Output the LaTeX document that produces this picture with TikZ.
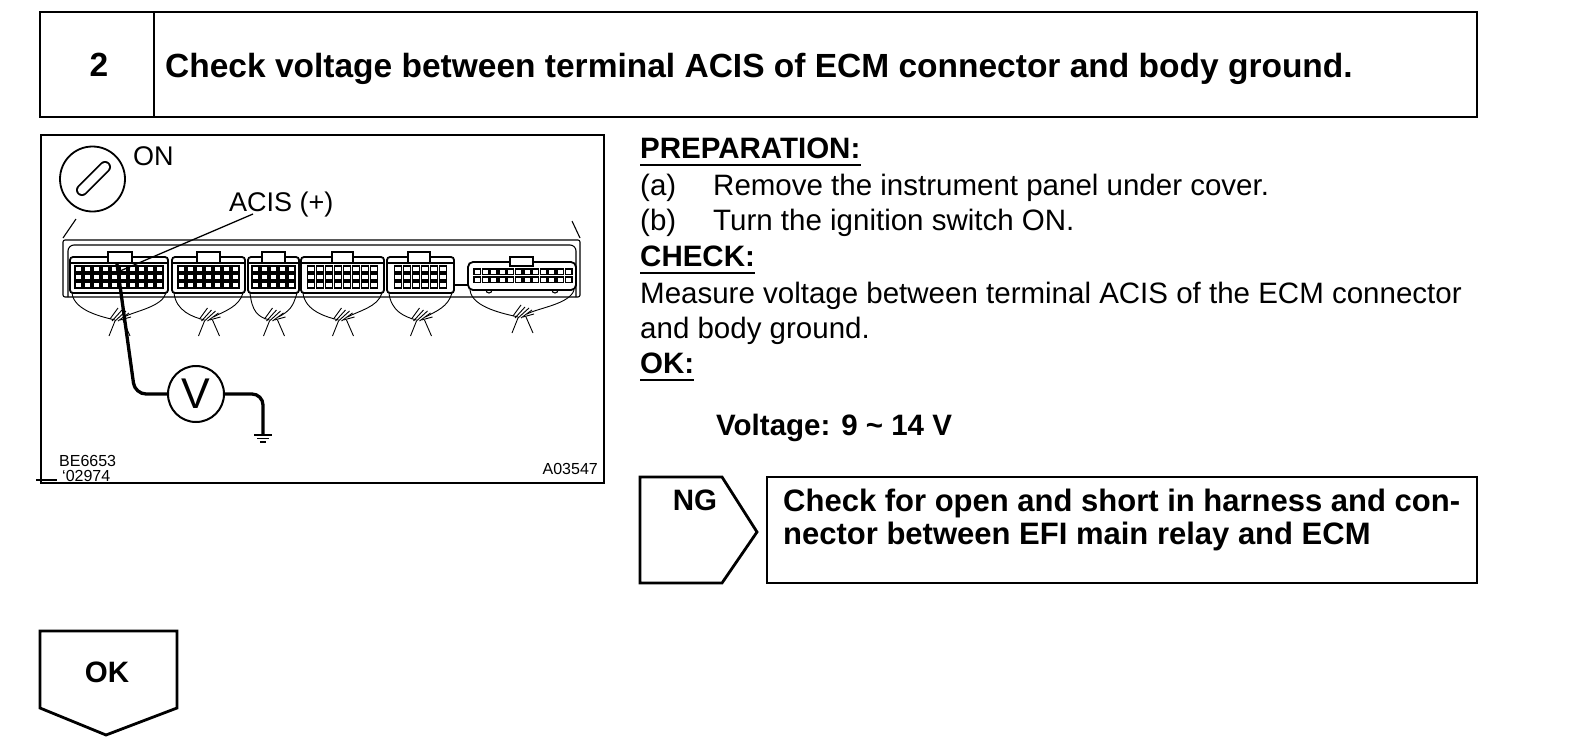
\documentclass[tikz,border=0pt]{standalone}
\usepackage{fontspec}
\setmainfont{Liberation Sans}
\newcommand\myfs[1]{\fontsize{#1}{#1}\selectfont}
\begin{document}
\begin{tikzpicture}[x=1pt,y=-1pt,
  box/.style={line width=2.8pt},
  thinl/.style={line width=1.1pt},
  pinbox/.style={line width=1.5pt},
  wire/.style={line width=0.9pt},
  probe/.style={line width=3.3pt, rounded corners=11pt},
  txt/.style={inner sep=0pt, anchor=base west},
  hbold/.style={txt, font=\myfs{33.5}\bfseries},
  bbold/.style={txt, font=\myfs{29.5}\bfseries},
  breg/.style={txt, font=\myfs{29.5}},
  small/.style={txt, font=\myfs{16}},
  ulin/.style={line width=2pt}]
\useasboundingbox (0,0) rectangle (1584,744);
\fill[white] (0,0) rectangle (1584,744);

% ---------- header ----------
\draw[box] (40,12) rectangle (1477,117);
\draw[box] (154,12) -- (154,117);
\node[inner sep=0pt, font=\myfs{33.5}\bfseries] (num) at (99,65) {2};
\node[hbold] (title) at (165,77) {Check voltage between terminal ACIS of ECM connector and body ground.};

% ---------- figure ----------
\draw[box] (41,135) rectangle (604,483);
\draw[thinl] (36,480) -- (57,480);
% ignition key
\node[circle, draw, line width=1.8pt, minimum size=65pt, inner sep=0pt] (key) at (92.5,179) {};
\draw[line width=12pt, line cap=round] (82,190) -- (105,167);
\draw[line width=8.4pt, line cap=round, white] (82,190) -- (105,167);
\node[txt, font=\myfs{27}] (on) at (133,165) {ON};
\node[txt, font=\myfs{27}] (acis) at (229,211) {ACIS (+)};

% ECM housing
\draw[thinl] (76,219) -- (63,238);
\draw[thinl] (572,221) -- (580,238);
\draw[thinl, rounded corners=2pt] (63,297) -- (63,240) -- (580,240) -- (580,297) -- cycle;
\draw[thinl, rounded corners=6pt] (68,297) -- (68,245) -- (576,245) -- (576,297);

% connectors C1..C5
\foreach \L/\R/\a/\b in {70/168/108/132, 172/245/197/220, 248/299/262/285, 301/384/332/353, 387/454/408/430}{
  \draw[line width=1.8pt, rounded corners=3pt] (\L,293) rectangle (\R,257);
  \draw[thinl, fill=white] (\a,252) rectangle (\b,263);
  \draw[thinl] (\L,263) -- (\a,263) (\b,263) -- (\R,263);
  \pgfmathtruncatemacro\n{(\R-\L-6)/9}
  \pgfmathsetmacro\xo{(\L+\R)/2-(\n*9-2)/2}
  \foreach \i in {1,...,\n}{
    \foreach \j in {266,274,282}{
      \draw[pinbox] ({\xo+(\i-1)*9},\j) rectangle ++(7,6);
    }
  }
}
% connector C6
\draw[line width=1.8pt, rounded corners=5pt] (468,262) rectangle (576,290);
\draw[thinl, fill=white] (510,257) rectangle (533,266);
\foreach \i in {1,...,12}{
  \foreach \j in {269,277}{
    \draw[pinbox] ({474+(\i-1)*8.3},\j) rectangle ++(6.5,5.5);
  }
}
\draw[thinl] (486,290) arc[start angle=180, end angle=0, radius=3];
\draw[thinl] (552,290) arc[start angle=180, end angle=0, radius=3];
\draw[thinl] (454,285) -- (468,285);

% harnesses
\foreach \L/\R/\B in {70/168/293, 172/245/293, 248/299/293, 301/384/293, 387/454/293, 468/576/290}{
  \pgfmathsetmacro\c{(\L+\R)/2}
  \draw[wire] (\L+2,\B) .. controls (\L+4,\B+18) and (\c-16,\B+24) .. (\c-4,\B+27);
  \draw[wire] (\R-2,\B) .. controls (\R-6,\B+14) and (\c+16,\B+18) .. (\c+5,\B+24);
  \draw[wire] (\c-7,\B+28) -- (\c+3,\B+17);
  \draw[wire] (\c-4,\B+28) -- (\c+7,\B+18);
  \draw[wire] (\c-1,\B+28) -- (\c+10,\B+20);
  \draw[wire] (\c-9,\B+26) -- (\c-1,\B+15);
  \draw[wire] (\c+1,\B+27) -- (\c+12,\B+24);
  \draw[wire] (\c-4,\B+28) -- (\c-10,\B+43);
  \draw[wire] (\c+4,\B+27) -- (\c+11,\B+43);
}

% probe, voltmeter, ground
\coordinate (ldr) at (253,214);
\coordinate (acistip) at (120,271);
\coordinate (acispin) at (117,264);
\coordinate (gnd) at (263,435);
\draw[line width=1.3pt] (ldr) -- (acistip);
\node[circle, draw, line width=2pt, minimum size=56pt, inner sep=0pt, fill=white, font=\myfs{43}] (vm) at (196,394) {V};
\draw[probe] (acispin) -- (135,394) -- (vm.west);
\draw[probe] (vm.east) -- (263,394) -- (gnd);
\draw[line width=1.5pt] (254,435) -- (272,435) (257,438.5) -- (269,438.5) (260,442) -- (266,442);

\node[small] (code1) at (59,466) {BE6653};
\node[small] (code2) at (62,481) {‘02974};
\node[small, anchor=base east] (code3) at (598,474) {A03547};

% ---------- text column ----------
\node[bbold] (prep) at (640,158) {PREPARATION:};
\draw[ulin] ([yshift=-7pt]prep.south west) -- ([yshift=-7pt]prep.south east);
\node[breg] (la) at (640,195) {(a)};
\node[breg] (ta) at (713,195) {Remove the instrument panel under cover.};
\node[breg] (lb) at (640,230) {(b)};
\node[breg] (tb) at (713,230) {Turn the ignition switch ON.};
\node[bbold] (chk) at (640,266) {CHECK:};
\draw[ulin] ([yshift=-7pt]chk.south west) -- ([yshift=-7pt]chk.south east);
\node[breg] (m1) at (640,303) {Measure voltage between terminal ACIS of the ECM connector};
\node[breg] (m2) at (640,338) {and body ground.};
\node[bbold] (okl) at (640,373) {OK:};
\draw[ulin] ([yshift=-7pt]okl.south west) -- ([yshift=-7pt]okl.south east);
\node[bbold] (volt) at (716,435) {Voltage: 9 \textasciitilde{} 14 V};

% ---------- NG branch ----------
\draw[box] (640,477) -- (722,477) -- (757,532) -- (722,583) -- (640,583) -- cycle;
\node[inner sep=0pt, font=\myfs{29.5}\bfseries] (ng) at (695,500) {NG};
\draw[box] (767,477) rectangle (1477,583);
\node[txt, font=\myfs{31}\bfseries] (ng1) at (783,511) {Check for open and short in harness and con-};
\node[txt, font=\myfs{31}\bfseries] (ng2) at (783,544) {nector between EFI main relay and ECM};

% ---------- OK branch ----------
\draw[box] (40,631) -- (177,631) -- (177,708) -- (106,735) -- (40,708) -- cycle;
\node[inner sep=0pt, font=\myfs{29.5}\bfseries] (ok) at (107,672) {OK};
\end{tikzpicture}
\end{document}
